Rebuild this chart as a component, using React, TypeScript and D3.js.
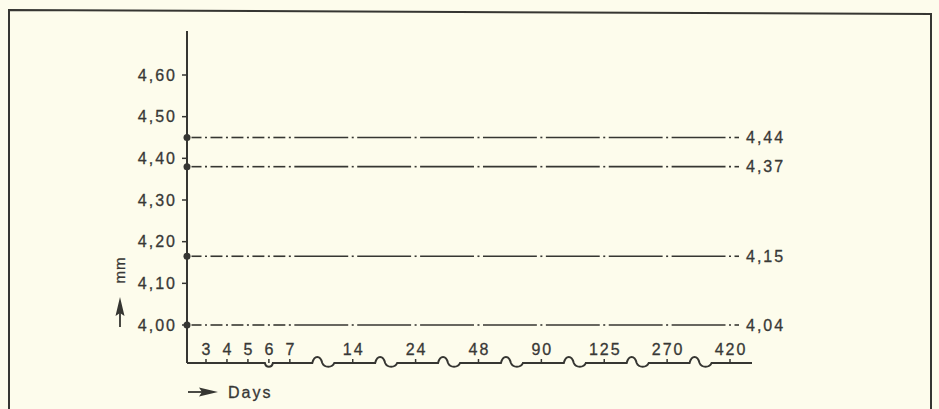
import React from "react";
import * as d3 from "d3";

// ---- data ----
const yTickValues = [4.0, 4.1, 4.2, 4.3, 4.4, 4.5, 4.6];
const dayLabels = ["3", "4", "5", "6", "7", "14", "24", "48", "90", "125", "270", "420"];
const lineValues = [4.45, 4.38, 4.165, 4.0]; // where each level is plotted
const lineLabels = ["4,44", "4,37", "4,15", "4,04"]; // printed values at right end

const W = 939;
const H = 409;
const INK = "#363632";
const TEXT = "#383836";
const BG = "#fdfcec";
const FONT = "'Liberation Sans', Arial, Helvetica, sans-serif";
const LS = 2;
const textStyle = { stroke: TEXT, strokeWidth: 0.3 };

export default function App() {
  const axisX = 187;
  const axisY = 363;
  const axisTop = 31;
  const axisRight = 752;
  const lineEnd = 739;

  const y = d3.scaleLinear().domain([4.0, 4.6]).range([325, 75]);
  // broken day axis: first five days one step apart, later ones three steps apart
  const slot = (i: number) => (i < 5 ? i : 3 * i - 8);
  const x = d3.scaleLinear().domain([0, slot(dayLabels.length - 1)]).range([206, 730]);
  const xs = dayLabels.map((_, i) => x(slot(i)));

  const fmt = (v: number) => d3.format(".2f")(v).replace(".", ",");

  // x axis path with break marks
  const p = d3.path();
  p.moveTo(axisX, axisY);
  const x6 = xs[3];
  p.lineTo(x6 - 4, axisY);
  p.bezierCurveTo(x6 - 3, axisY + 5, x6 + 3, axisY + 5, x6 + 4, axisY);
  for (let i = 4; i < xs.length - 1; i++) {
    const c = (xs[i] + xs[i + 1]) / 2 + 3;
    p.lineTo(c - 12, axisY);
    p.bezierCurveTo(c - 10, axisY - 8, c - 4, axisY - 8, c - 2, axisY);
    p.bezierCurveTo(c, axisY + 5, c + 8, axisY + 5, c + 10, axisY);
  }
  p.lineTo(axisRight, axisY);

  const stops = [axisX, ...xs, lineEnd];
  const gap = 4.5;

  return (
    <svg
      width={W}
      height={H}
      viewBox={`0 0 ${W} ${H}`}
      style={{ position: "absolute", left: 0, top: 0, background: BG }}
    >
      <rect x={0} y={0} width={W} height={H} fill={BG} />
      {/* frame */}
      <path d={`M9,${H + 2} L9,10 L931,14 L931,${H + 2}`} fill="none" stroke={INK} strokeWidth={2} />

      {/* y axis */}
      <line x1={axisX} y1={axisTop} x2={axisX} y2={axisY} stroke={INK} strokeWidth={2} />
      {yTickValues.map((v) => (
        <g key={v}>
          <line x1={axisX - 5} x2={axisX} y1={y(v)} y2={y(v)} stroke={INK} strokeWidth={1.5} />
          <text
            x={175 + LS}
            y={y(v)}
            dy="0.36em"
            textAnchor="end"
            fontFamily={FONT}
            fontSize={16}
            letterSpacing={LS}
            fill={TEXT}
            style={textStyle}
          >
            {fmt(v)}
          </text>
        </g>
      ))}

      {/* x axis */}
      <path d={p.toString()} fill="none" stroke={INK} strokeWidth={2} />
      {dayLabels.map((d, i) => (
        <g key={d}>
          <line x1={xs[i]} x2={xs[i]} y1={axisY - 4} y2={axisY} stroke={INK} strokeWidth={1.5} />
          <text
            x={xs[i] + LS / 2}
            y={355}
            textAnchor="middle"
            fontFamily={FONT}
            fontSize={16}
            letterSpacing={LS}
            fill={TEXT}
            style={textStyle}
          >
            {d}
          </text>
        </g>
      ))}

      {/* level lines */}
      {lineValues.map((v, k) => {
        const yy = y(v);
        return (
          <g key={k}>
            {stops.slice(0, -1).map((a, j) => {
              const b = stops[j + 1];
              return (
                <line
                  key={j}
                  x1={a + gap}
                  x2={b - (j === stops.length - 2 ? 0 : gap)}
                  y1={yy}
                  y2={yy}
                  stroke={INK}
                  strokeWidth={1.6}
                />
              );
            })}
            {xs.map((xx, j) => (
              <line key={"d" + j} x1={xx - 1} x2={xx + 1} y1={yy} y2={yy} stroke={INK} strokeWidth={1.6} />
            ))}
            <circle cx={axisX} cy={yy} r={3.5} fill={INK} />
            <text
              x={746}
              y={yy}
              dy="0.36em"
              fontFamily={FONT}
              fontSize={16}
              letterSpacing={LS}
              fill={TEXT}
              style={textStyle}
            >
              {lineLabels[k]}
            </text>
          </g>
        );
      })}

      {/* y axis title */}
      <text
        transform="translate(125,270) rotate(-90)"
        textAnchor="middle"
        fontFamily={FONT}
        fontSize={15}
        letterSpacing={1}
        fill={TEXT}
        style={textStyle}
      >
        mm
      </text>
      <line x1={120} x2={120} y1={327} y2={312} stroke={INK} strokeWidth={1.8} />
      <path d="M120,297 L124.5,316 L120,313 L115.5,316 Z" fill={INK} />

      {/* x axis title */}
      <line x1={188} x2={204} y1={392} y2={392} stroke={INK} strokeWidth={1.8} />
      <path d="M218,392 L199,387.5 L202,392 L199,396.5 Z" fill={INK} />
      <text x={228} y={398} fontFamily={FONT} fontSize={16} letterSpacing={LS} fill={TEXT} style={textStyle}>
        Days
      </text>
    </svg>
  );
}
